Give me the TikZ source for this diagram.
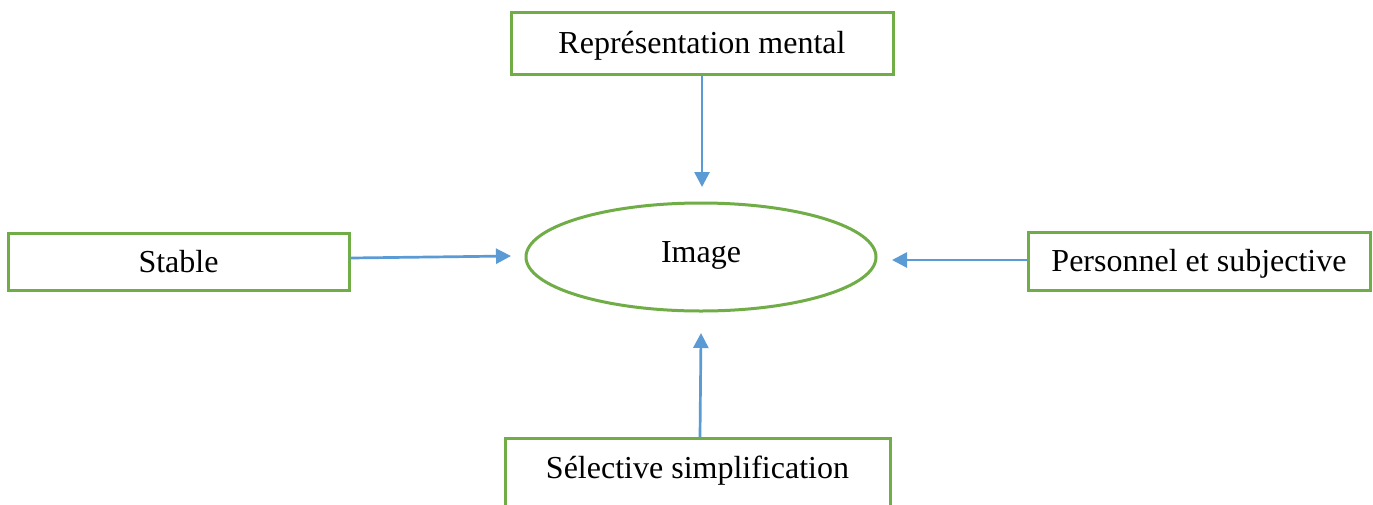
\documentclass[tikz,border=0pt]{standalone}
\usepackage{fontspec}
\setmainfont{Liberation Serif}
\usetikzlibrary{arrows.meta,shapes.geometric}
\definecolor{boxgreen}{HTML}{70AD47}
\definecolor{arrblue}{HTML}{5B9BD5}
\begin{document}
\begin{tikzpicture}[x=1pt,y=-1pt,
  txt/.style={font=\fontsize{32}{38}\selectfont, text height=21pt, text depth=0pt},
  box/.style={draw=boxgreen, line width=3pt, rectangle, inner sep=0pt, txt},
  arr/.style={draw=arrblue, line width=2.7pt, -{Triangle[length=15pt,width=15pt]}}]
\useasboundingbox (0,0) rectangle (1373,504);
\clip (0,0) rectangle (1373,504);
\fill[white] (0,0) rectangle (1373,504);
\node[box, minimum width=382pt, minimum height=62pt] (rep) at (702,43) {Représentation mental};
\node[box, minimum width=341pt, minimum height=57pt] (stable) at (178.5,261.5) {Stable};
\node[box, minimum width=342pt, minimum height=58pt] (pers) at (1199,261) {Personnel et subjective};
\node[box, minimum width=385pt, minimum height=100pt, anchor=north] (sel) at (697.5,437) {};
\node[txt, inner sep=0pt] (seltext) at (697.5,468) {Sélective simplification};
\node[draw=boxgreen, line width=3pt, ellipse, minimum width=350pt, minimum height=108pt, inner sep=0pt] (img) at (701,257) {};
\node[txt, inner sep=0pt] (imgtext) at (701,252) {Image};
\coordinate (ttop) at (702,187);
\coordinate (tleft) at (511,256);
\coordinate (tright) at (892,260);
\coordinate (tbot) at (701,333);
\draw[arr] (rep.south) -- (ttop);
\draw[arr] (stable.east |- 0,258) -- (tleft);
\draw[arr] (pers.west |- 0,260) -- (tright);
\draw[arr] (sel.north -| 700,0) -- (tbot);
\end{tikzpicture}
\end{document}
